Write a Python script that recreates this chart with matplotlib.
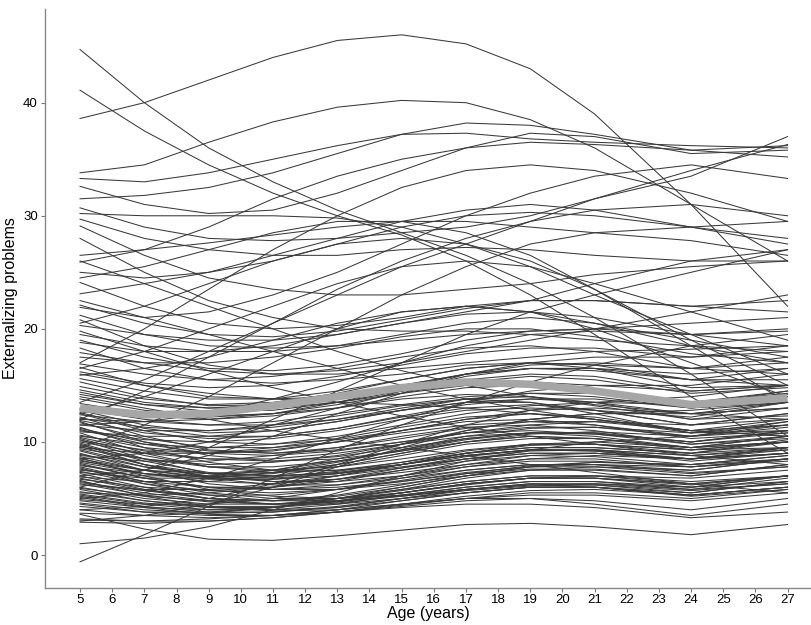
import numpy as np
import matplotlib
matplotlib.use("Agg")
import matplotlib.pyplot as plt

plt.rcParams['font.family'] = ['Liberation Sans', 'DejaVu Sans']

ages = [5, 7, 9, 11, 13, 15, 17, 19, 21, 24, 27]

# sparse high trajectories (top of the chart)
high_traj = [
    [38.6, 40.0, 42.0, 44.0, 45.5, 46.0, 45.2, 43.0, 39.0, 31.0, 22.0],
    [44.7, 40.0, 36.0, 33.0, 30.5, 28.5, 26.5, 24.0, 21.0, 16.0, 10.5],
    [41.1, 37.5, 34.5, 32.0, 30.0, 28.3, 26.0, 23.0, 19.5, 14.0, 9.0],
    [33.8, 34.5, 36.5, 38.3, 39.6, 40.2, 40.0, 38.5, 36.0, 31.0, 26.0],
    [33.3, 33.0, 33.8, 35.0, 36.2, 37.2, 37.3, 36.8, 36.5, 36.2, 36.0],
    [32.6, 31.0, 30.2, 30.5, 32.0, 34.0, 36.0, 37.3, 37.0, 35.5, 35.8],
    [31.5, 31.8, 32.5, 33.8, 35.5, 37.2, 38.2, 38.0, 37.2, 35.8, 36.2],
    [30.7, 29.0, 28.0, 27.8, 28.0, 28.5, 29.0, 30.0, 31.5, 33.5, 37.0],
    [29.7, 28.0, 27.0, 26.5, 26.5, 27.0, 27.2, 27.0, 26.5, 26.0, 26.0],
    [29.1, 26.5, 24.5, 23.5, 23.0, 23.0, 23.5, 24.0, 24.8, 25.5, 26.0],
    [28.0, 25.0, 22.5, 21.0, 20.0, 19.8, 19.8, 19.5, 19.0, 18.5, 18.0],
    [26.5, 27.0, 27.6, 28.3, 29.0, 29.5, 29.5, 29.0, 28.5, 27.8, 26.5],
    [25.9, 27.0, 29.0, 31.5, 33.5, 35.0, 36.0, 36.5, 36.3, 35.8, 35.2],
    [25.0, 24.5, 25.0, 26.0, 27.5, 29.0, 30.0, 30.3, 30.0, 29.0, 27.5],
    [24.1, 22.0, 20.5, 20.0, 20.3, 21.0, 22.0, 22.5, 22.5, 22.0, 21.5],
    [23.1, 24.0, 25.0, 26.5, 28.0, 29.5, 30.5, 31.0, 30.5, 29.0, 28.0],
    [21.9, 21.0, 21.5, 23.0, 25.0, 27.5, 30.0, 32.0, 33.5, 34.5, 33.3],
    [21.2, 19.5, 18.5, 18.3, 18.5, 19.0, 19.5, 19.8, 20.0, 20.5, 21.0],
    [20.8, 18.5, 16.8, 16.0, 16.0, 16.5, 17.0, 17.5, 18.0, 18.2, 18.5],
    [19.5, 18.5, 18.0, 18.0, 18.5, 19.5, 20.5, 21.0, 20.5, 19.0, 17.5],
    [18.8, 18.0, 18.0, 18.5, 19.5, 20.5, 21.5, 22.5, 24.0, 26.0, 27.0],
    [18.3, 16.5, 15.5, 15.2, 15.5, 16.0, 16.8, 17.0, 16.8, 16.5, 17.0],
    [17.9, 17.0, 16.3, 16.0, 16.3, 17.0, 18.0, 19.0, 20.0, 21.5, 23.0],
    [16.6, 15.0, 14.0, 13.8, 14.0, 14.5, 15.0, 15.3, 15.0, 14.5, 15.0],
    [15.9, 16.5, 17.5, 19.0, 20.5, 21.5, 22.0, 21.5, 20.5, 18.5, 17.0],
    [15.3, 14.0, 13.2, 13.3, 14.0, 15.0, 16.0, 16.5, 16.5, 16.0, 16.5],
    [14.6, 13.5, 13.0, 13.0, 13.5, 14.3, 15.0, 15.0, 14.5, 13.5, 14.5],
    [24.5, 25.5, 27.0, 28.5, 29.5, 29.5, 28.5, 26.5, 23.5, 18.5, 13.5],
    [20.5, 22.0, 24.0, 26.0, 27.5, 28.0, 27.5, 26.0, 23.5, 19.0, 15.0],
    [30.2, 30.0, 30.0, 30.0, 29.8, 29.0, 27.5, 25.5, 23.0, 19.5, 16.0],
    [16.5, 18.0, 20.0, 22.0, 24.0, 25.5, 26.0, 25.5, 24.0, 21.5, 19.0],
    [12.5, 14.0, 16.0, 18.0, 20.0, 21.5, 22.0, 21.5, 20.0, 17.0, 14.0],
]

# steep risers
rise_traj = [
    [-0.6, 1.8, 4.3, 6.8, 9.3, 11.5, 13.5, 15.3, 16.8, 18.5, 19.5],
    [1.0, 1.5, 2.5, 4.0, 5.5, 7.0, 8.3, 9.3, 10.0, 10.5, 11.0],
    [12.0, 14.5, 17.5, 20.5, 23.5, 26.0, 28.0, 29.5, 30.5, 31.0, 30.0],
    [9.5, 11.5, 14.0, 17.0, 20.0, 23.0, 25.5, 27.5, 28.5, 29.0, 29.5],
    [17.0, 20.0, 23.5, 27.0, 30.0, 32.5, 34.0, 34.5, 34.0, 32.0, 29.5],
    [6.0, 7.5, 9.5, 12.0, 14.5, 17.0, 19.5, 21.5, 23.0, 25.0, 27.0],
    [13.5, 15.5, 18.0, 20.5, 23.0, 25.5, 27.5, 29.5, 31.5, 34.0, 36.3],
    [3.0, 3.5, 4.5, 6.0, 7.8, 9.5, 11.0, 12.0, 12.5, 12.8, 13.5],
    [5.0, 5.5, 6.8, 8.5, 10.3, 12.0, 13.5, 14.5, 15.0, 15.0, 16.0],
    [7.0, 7.5, 8.8, 10.5, 12.5, 14.3, 16.0, 17.0, 17.5, 17.5, 18.0],
    [8.5, 9.0, 10.0, 11.5, 13.0, 14.5, 15.8, 16.5, 16.5, 15.5, 15.0],
    [4.0, 4.3, 5.0, 6.3, 8.0, 9.8, 11.5, 12.8, 13.5, 14.0, 15.0],
    [11.5, 11.8, 12.5, 13.8, 15.3, 17.0, 18.5, 19.5, 19.8, 19.5, 20.0],
]

# decliners crossing the middle
cross_traj = [
    [26.0, 24.0, 22.0, 20.0, 18.0, 16.3, 15.0, 14.0, 13.3, 12.5, 12.0],
    [22.5, 21.0, 19.5, 18.0, 16.5, 15.0, 13.8, 12.8, 12.0, 11.0, 10.5],
    [19.8, 18.0, 16.3, 14.8, 13.5, 12.3, 11.3, 10.5, 9.8, 8.8, 8.0],
    [14.0, 13.0, 12.0, 11.0, 10.2, 9.5, 8.8, 8.0, 7.3, 6.3, 5.5],
    [16.0, 15.0, 14.3, 13.8, 13.5, 13.3, 13.0, 12.5, 12.0, 11.0, 10.5],
]

# upper-middle band
mid_traj = [
    [16.9, 16.0, 15.5, 15.8, 16.5, 17.5, 18.3, 18.5, 18.0, 16.5, 16.0],
    [16.2, 15.2, 14.8, 15.0, 15.8, 16.8, 17.8, 18.3, 18.3, 17.5, 18.5],
    [15.6, 14.5, 13.8, 13.8, 14.5, 15.5, 16.5, 17.0, 16.8, 15.5, 15.5],
    [14.9, 13.8, 13.3, 13.5, 14.3, 15.5, 16.5, 17.0, 16.5, 14.8, 15.0],
    [14.2, 13.3, 13.0, 13.3, 14.0, 15.0, 16.0, 16.5, 16.3, 15.5, 16.5],
    [13.8, 12.8, 12.3, 12.5, 13.3, 14.3, 15.3, 15.8, 15.5, 14.3, 14.8],
    [13.4, 12.5, 12.2, 12.5, 13.5, 14.8, 16.0, 16.8, 17.0, 16.5, 17.5],
    [17.5, 17.0, 17.0, 17.5, 18.3, 19.3, 20.0, 20.0, 19.3, 17.8, 17.0],
    [19.0, 17.5, 16.5, 16.3, 16.8, 17.8, 19.0, 19.8, 20.0, 19.5, 19.8],
    [20.3, 19.5, 19.0, 19.0, 19.5, 20.5, 21.3, 21.5, 21.0, 19.5, 18.5],
    [22.1, 20.5, 19.5, 19.3, 19.8, 20.8, 21.8, 22.5, 22.5, 22.0, 22.5],
    [14.4, 13.3, 12.7, 12.8, 13.5, 14.5, 15.5, 16.0, 15.8, 14.5, 15.0],
]

# dense low band
low_traj = [
    [12.8, 11.5, 10.8, 11.0, 11.8, 12.8, 13.5, 13.5, 12.8, 11.5, 12.5],
    [12.5, 11.0, 10.0, 9.8, 10.2, 11.0, 11.8, 12.0, 11.5, 10.5, 11.8],
    [12.2, 10.5, 9.3, 9.0, 9.3, 10.0, 10.8, 11.0, 10.7, 10.0, 11.0],
    [12.0, 11.8, 12.0, 12.5, 13.0, 13.8, 14.2, 14.0, 13.2, 12.0, 13.0],
    [11.8, 10.0, 8.8, 8.3, 8.5, 9.2, 10.0, 10.5, 10.3, 9.5, 10.5],
    [11.5, 11.0, 11.0, 11.5, 12.3, 13.2, 13.8, 13.5, 12.5, 10.8, 11.5],
    [11.3, 9.5, 8.2, 7.5, 7.5, 8.0, 8.8, 9.3, 9.3, 8.8, 9.5],
    [11.0, 10.2, 10.0, 10.3, 11.0, 12.0, 12.8, 13.0, 12.8, 12.2, 13.5],
    [10.8, 9.0, 7.8, 7.3, 7.5, 8.2, 9.0, 9.5, 9.5, 9.0, 10.2],
    [10.5, 9.8, 9.5, 9.8, 10.5, 11.5, 12.5, 13.2, 13.5, 13.3, 14.5],
    [10.2, 8.5, 7.2, 6.5, 6.5, 7.0, 7.8, 8.3, 8.3, 7.8, 8.5],
    [10.0, 9.0, 8.5, 8.5, 9.0, 9.8, 10.5, 10.8, 10.5, 9.5, 10.0],
    [9.8, 8.0, 6.8, 6.2, 6.2, 6.8, 7.5, 8.0, 8.0, 7.5, 8.5],
    [9.5, 9.0, 9.0, 9.5, 10.3, 11.3, 12.2, 12.5, 12.2, 11.0, 11.5],
    [9.2, 7.8, 7.0, 6.8, 7.2, 8.0, 9.0, 9.8, 10.0, 9.5, 10.0],
    [9.0, 7.5, 6.3, 5.8, 5.8, 6.3, 7.0, 7.5, 7.5, 7.0, 8.0],
    [8.8, 8.3, 8.3, 8.8, 9.5, 10.5, 11.3, 11.5, 11.0, 9.8, 10.5],
    [8.6, 7.0, 5.8, 5.2, 5.0, 5.3, 5.8, 6.2, 6.3, 6.0, 7.0],
    [8.3, 7.5, 7.2, 7.5, 8.3, 9.3, 10.3, 10.8, 10.8, 10.0, 11.0],
    [8.1, 6.8, 6.0, 5.8, 6.2, 7.0, 8.0, 8.8, 9.0, 8.5, 9.0],
    [7.8, 6.5, 5.5, 5.0, 5.0, 5.5, 6.2, 6.8, 7.0, 6.8, 7.5],
    [7.5, 7.0, 7.0, 7.5, 8.5, 9.8, 11.0, 12.0, 12.5, 12.5, 13.5],
    [7.2, 6.0, 5.0, 4.5, 4.5, 5.0, 5.5, 6.0, 6.0, 5.5, 6.5],
    [6.9, 6.5, 6.5, 7.0, 7.8, 8.8, 9.8, 10.3, 10.3, 9.5, 10.5],
    [6.5, 5.5, 4.8, 4.5, 4.7, 5.3, 6.0, 6.5, 6.5, 6.0, 7.0],
    [6.2, 5.8, 5.8, 6.3, 7.0, 8.0, 8.8, 9.3, 9.2, 8.5, 9.5],
    [5.8, 4.8, 4.2, 4.0, 4.2, 4.8, 5.5, 6.0, 6.0, 5.3, 6.0],
    [5.5, 5.3, 5.5, 6.0, 7.0, 8.0, 9.0, 9.5, 9.5, 9.0, 10.0],
    [5.2, 4.3, 3.8, 3.8, 4.2, 5.0, 5.8, 6.3, 6.2, 5.5, 6.5],
    [4.9, 4.5, 4.5, 5.0, 5.8, 6.8, 7.8, 8.5, 8.8, 8.5, 9.0],
    [4.5, 3.8, 3.5, 3.5, 3.8, 4.3, 4.8, 5.0, 4.8, 4.0, 5.0],
    [4.0, 3.5, 3.3, 3.5, 4.0, 4.8, 5.5, 6.0, 6.0, 5.3, 6.0],
    [3.6, 2.3, 1.4, 1.3, 1.7, 2.2, 2.7, 2.8, 2.5, 1.8, 2.7],
    [2.9, 2.8, 3.0, 3.3, 3.8, 4.2, 4.5, 4.5, 4.2, 3.3, 3.8],
    [3.1, 3.0, 3.2, 3.5, 4.0, 4.5, 5.0, 5.0, 4.5, 3.5, 4.5],
    [13.0, 12.3, 12.0, 12.3, 13.0, 14.0, 14.8, 15.0, 14.5, 13.0, 13.5],
    [12.6, 11.2, 10.5, 10.5, 11.2, 12.3, 13.3, 13.8, 13.8, 13.0, 14.0],
    [11.9, 10.8, 10.3, 10.5, 11.2, 12.2, 13.0, 13.3, 12.8, 11.5, 12.0],
    [11.2, 10.0, 9.2, 9.0, 9.5, 10.3, 11.2, 11.8, 11.8, 11.0, 12.0],
    [10.6, 9.5, 9.0, 9.2, 10.0, 11.0, 12.0, 12.5, 12.0, 10.8, 11.0],
    [10.3, 8.8, 7.8, 7.5, 7.8, 8.5, 9.3, 9.8, 9.8, 9.3, 10.0],
    [9.7, 8.5, 7.8, 7.8, 8.3, 9.2, 10.2, 10.8, 10.8, 10.0, 10.8],
    [9.3, 8.0, 7.2, 7.0, 7.3, 8.0, 8.8, 9.3, 9.2, 8.3, 9.0],
    [8.9, 7.8, 7.2, 7.3, 8.0, 9.0, 10.0, 10.5, 10.3, 9.3, 9.5],
    [8.4, 7.2, 6.5, 6.3, 6.7, 7.5, 8.3, 8.8, 8.7, 8.0, 8.5],
    [8.0, 6.8, 6.0, 5.8, 6.0, 6.5, 7.2, 7.6, 7.6, 7.0, 8.0],
    [7.6, 6.5, 6.0, 6.0, 6.5, 7.5, 8.5, 9.2, 9.3, 8.8, 9.3],
    [7.3, 6.8, 6.8, 7.3, 8.2, 9.3, 10.5, 11.2, 11.3, 10.5, 11.5],
    [7.0, 5.8, 5.0, 4.8, 5.0, 5.7, 6.5, 7.0, 7.0, 6.3, 7.0],
    [6.7, 6.0, 5.7, 6.0, 6.7, 7.7, 8.7, 9.3, 9.3, 8.5, 9.0],
    [6.3, 5.3, 4.7, 4.5, 4.8, 5.5, 6.3, 6.8, 6.8, 6.2, 7.0],
    [6.0, 5.0, 4.5, 4.5, 5.0, 5.8, 6.8, 7.5, 7.8, 7.5, 8.5],
    [5.6, 4.8, 4.3, 4.3, 4.7, 5.5, 6.3, 6.8, 6.8, 6.0, 6.5],
    [5.3, 4.5, 4.0, 4.0, 4.5, 5.3, 6.0, 6.5, 6.5, 5.8, 6.3],
    [4.8, 4.2, 4.0, 4.2, 4.8, 5.5, 6.3, 6.8, 6.8, 6.3, 7.0],
    [4.3, 3.8, 3.8, 4.2, 5.0, 6.0, 7.0, 7.8, 8.0, 7.8, 8.5],
    [3.7, 3.5, 3.7, 4.2, 5.0, 5.8, 6.5, 7.0, 7.0, 6.5, 7.0],
    [3.2, 3.0, 3.0, 3.3, 3.8, 4.5, 5.0, 5.3, 5.3, 4.8, 5.5],
    [12.4, 11.8, 11.5, 11.8, 12.5, 13.3, 14.0, 14.3, 14.0, 13.0, 14.2],
    [11.7, 10.3, 9.5, 9.5, 10.0, 10.8, 11.5, 11.8, 11.5, 10.3, 10.8],
    [11.1, 9.8, 9.0, 8.8, 9.2, 10.0, 10.8, 11.3, 11.3, 10.8, 11.8],
    [10.4, 9.2, 8.5, 8.3, 8.7, 9.5, 10.3, 10.8, 10.7, 9.8, 10.3],
    [9.9, 8.3, 7.3, 7.0, 7.2, 7.8, 8.5, 9.0, 9.0, 8.5, 9.5],
    [9.4, 8.5, 8.0, 8.2, 8.8, 9.8, 10.8, 11.5, 11.8, 11.5, 12.5],
    [8.7, 7.5, 6.8, 6.7, 7.0, 7.7, 8.5, 9.0, 9.0, 8.5, 9.3],
    [8.2, 7.2, 6.7, 6.7, 7.2, 8.0, 9.0, 9.7, 9.8, 9.3, 10.0],
    [7.7, 6.3, 5.3, 4.8, 4.8, 5.2, 5.8, 6.3, 6.3, 5.8, 6.8],
    [7.4, 6.3, 5.7, 5.5, 5.8, 6.5, 7.3, 7.8, 7.8, 7.2, 7.8],
    [6.8, 5.7, 5.0, 4.8, 5.2, 6.0, 7.0, 7.8, 8.2, 8.0, 8.8],
    [6.4, 5.7, 5.3, 5.3, 5.8, 6.6, 7.5, 8.0, 8.0, 7.3, 7.8],
    [5.9, 5.2, 4.8, 4.8, 5.3, 6.2, 7.2, 7.9, 8.2, 8.0, 8.8],
    [5.4, 4.6, 4.2, 4.2, 4.6, 5.2, 5.8, 6.2, 6.0, 5.2, 5.8],
    [4.6, 4.0, 3.7, 3.8, 4.3, 5.0, 5.7, 6.1, 6.2, 5.7, 6.3],
    [12.9, 12.0, 11.5, 11.5, 12.0, 12.8, 13.5, 13.8, 13.5, 12.5, 13.0],
    [12.1, 11.3, 11.0, 11.3, 12.0, 13.0, 13.8, 14.0, 13.5, 12.0, 12.3],
    [10.9, 10.5, 10.5, 11.0, 11.8, 12.8, 13.8, 14.3, 14.3, 13.5, 14.3],
    [10.1, 9.3, 9.0, 9.3, 10.0, 11.0, 12.0, 12.8, 13.0, 12.5, 13.0],
    [9.6, 8.0, 6.9, 6.5, 6.7, 7.3, 8.0, 8.5, 8.5, 7.8, 8.3],
    [8.5, 7.5, 6.9, 6.9, 7.4, 8.2, 9.2, 9.8, 9.8, 9.0, 9.5],
    [7.9, 7.2, 6.9, 7.2, 8.0, 9.0, 10.0, 10.7, 10.9, 10.5, 11.3],
    [6.6, 5.2, 4.3, 3.9, 4.0, 4.5, 5.2, 5.7, 5.8, 5.3, 6.0],
    [5.1, 4.2, 3.6, 3.5, 3.8, 4.4, 5.0, 5.5, 5.5, 5.0, 5.8],
]

# average trajectory (thick grey line)
mean_traj = [13.0, 12.4, 12.5, 13.2, 14.0, 14.8, 15.3, 15.1, 14.5, 13.3, 13.9]


fig = plt.figure(figsize=(8.12, 6.25), dpi=100)
ax = fig.add_axes([0.055, 0.06, 0.945, 0.925])

for group in (high_traj, rise_traj, cross_traj, mid_traj, low_traj):
    for traj in group:
        ax.plot(ages, traj, color='#3a3a3a', lw=0.75, solid_joinstyle='round')

ax.plot(ages, mean_traj, color='#a6a6a6', lw=5.5, solid_capstyle='butt', zorder=5)

ax.set_xlim(3.9, 27.76)
ax.set_ylim(-2.87, 48.25)
ax.set_xticks(range(5, 28))
ax.set_yticks([0, 10, 20, 30, 40])
ax.tick_params(labelsize=9.5, length=3, color='#777777', pad=2)

for side in ('top', 'right'):
    ax.spines[side].set_visible(False)
for side in ('left', 'bottom'):
    ax.spines[side].set_color('#888888')
    ax.spines[side].set_linewidth(1.0)

ax.set_xlabel('Age (years)', fontsize=11.5, labelpad=0)
ax.set_ylabel('Externalizing problems', fontsize=11.5)
ax.yaxis.set_label_coords(-0.035, 0.5)

fig.savefig('out.png', dpi=100)
